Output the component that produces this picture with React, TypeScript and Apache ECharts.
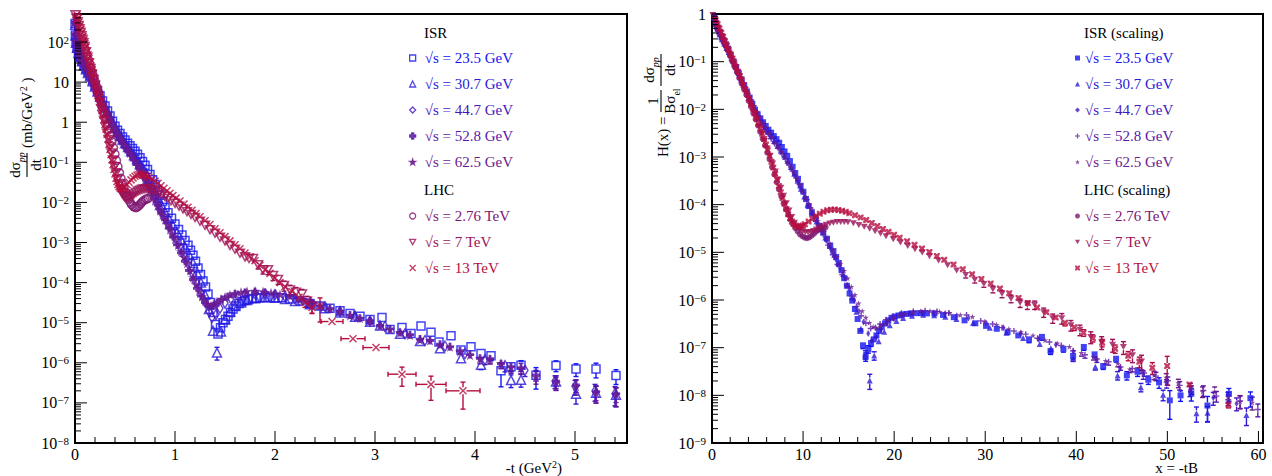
import React, { useEffect, useRef } from 'react';
import * as echarts from 'echarts';

const FONT = 'Liberation Serif, DejaVu Serif, serif';

// ---- series meta ----
const LABELS = ['√s = 23.5 GeV', '√s = 30.7 GeV', '√s = 44.7 GeV', '√s = 52.8 GeV', '√s = 62.5 GeV', '√s = 2.76 TeV', '√s = 7 TeV', '√s = 13 TeV'];
const COLORS = ['#1414f0', '#2c1ad8', '#4418c0', '#5818a8', '#6a1a8e', '#7e1672', '#9a1258', '#b60e3e'];
// slope B (GeV^-2) and elastic cross section (mb) used for the scaling x = -tB, H = (dσ/dt)/(Bσel)
const SLOPE_B = [11.8, 12.2, 12.8, 13.0, 13.3, 17.1, 19.9, 20.4];
const SIGMA_EL = [6.8, 7.2, 7.5, 7.6, 7.9, 21.8, 25.4, 31.0];

// ---- data: [-t (GeV^2), dσ/dt (mb/GeV^2), relative y error, x half-error] ----
const D_23_5 = [[0.001,290],[0.004,150],[0.01,98],[0.02,70],[0.035,52],[0.05,42],[0.07,33],[0.09,26],[0.11,21.5],[0.13,18],[0.15,14.8],[0.175,11],[0.2,8.2],[0.225,6.2],[0.25,4.6],[0.275,3.4],[0.3,2.55],[0.325,1.9],[0.35,1.42],[0.375,1.06],[0.4,0.79],[0.425,0.63],[0.45,0.52],[0.475,0.43],[0.5,0.36],[0.525,0.3],[0.55,0.26],[0.575,0.22],[0.6,0.19],[0.625,0.16],[0.65,0.13],[0.675,0.105],[0.7,0.085],[0.725,0.066],[0.75,0.05],[0.775,0.037],[0.8,0.028],[0.825,0.02],[0.85,0.015],[0.875,0.0105],[0.9,0.0075],[0.93,0.0055],[0.965,0.004],[1.0,0.0029],[1.035,0.0021],[1.07,0.00155],[1.1,0.00112],[1.13,0.00085],[1.155,0.00064],[1.18,0.00048],[1.205,0.00034],[1.23,0.00023],[1.255,0.00016],[1.28,0.00011,0.05],[1.305,7.8e-5,0.06],[1.33,5.2e-5,0.08],[1.355,3.2e-5,0.1],[1.38,1.8e-5,0.12],[1.405,9e-6,0.15],[1.43,5.2e-6,0.2],[1.455,7.5e-6,0.18],[1.48,1.0e-5,0.15],[1.505,1.2e-5,0.12],[1.53,1.45e-5,0.1],[1.555,1.8e-5,0.1],[1.58,2.2e-5,0.08],[1.61,2.6e-5,0.08],[1.64,3.0e-5,0.08],[1.67,3.4e-5,0.08],[1.7,3.6e-5,0.08],[1.735,3.8e-5,0.08],[1.77,4.0e-5,0.08],[1.81,4.1e-5,0.08],[1.85,4.2e-5,0.08],[1.9,4.25e-5,0.08],[1.95,4.25e-5,0.08],[2.0,4.2e-5,0.08],[2.07,4.2e-5,0.08],[2.15,3.9e-5,0.1],[2.25,3.5e-5,0.1],[2.35,3.0e-5,0.1],[2.45,2.6e-5,0.1],[2.55,2.3e-5,0.1],[2.65,2.0e-5,0.12],[2.75,1.7e-5,0.12],[2.85,1.45e-5,0.12],[2.95,1.2e-5,0.15],[3.07,1.35e-5,0.15],[3.15,6.8e-6,0.15],[3.27,7.6e-6,0.15],[3.36,5.4e-6,0.15],[3.46,8.3e-6,0.15],[3.56,5.8e-6,0.15],[3.64,3.3e-6,0.15],[3.76,4.7e-6,0.15],[3.86,2.1e-6,0.2],[3.96,2.5e-6,0.2],[4.06,1.7e-6,0.2],[4.16,1.5e-6,0.25],[4.26,6.3e-7,0.6],[4.36,8e-7,0.25],[4.46,8.7e-7,0.3],[4.61,4.9e-7,0.55],[4.81,8.6e-7,0.3],[5.01,7e-7,0.35],[5.21,7e-7,0.4],[5.41,4.8e-7,0.4]];

const D_30_7 = [[0.001,270],[0.004,145],[0.01,96],[0.02,72],[0.035,53],[0.05,43],[0.07,33],[0.09,26],[0.11,21],[0.13,17],[0.15,14],[0.175,10.5],[0.2,7.8],[0.225,5.8],[0.25,4.3],[0.275,3.15],[0.3,2.35],[0.325,1.75],[0.35,1.3],[0.375,0.97],[0.4,0.73],[0.425,0.57],[0.45,0.46],[0.475,0.37],[0.5,0.3],[0.53,0.24],[0.56,0.19],[0.59,0.15],[0.62,0.12],[0.65,0.094],[0.68,0.072],[0.71,0.054],[0.74,0.039],[0.77,0.028],[0.8,0.019],[0.83,0.013],[0.86,0.0088],[0.9,0.0058],[0.94,0.0039],[0.98,0.0027],[1.02,0.0018],[1.06,0.0012],[1.1,0.00078],[1.14,0.0005],[1.18,0.00031],[1.22,0.00018],[1.26,0.0001,0.05],[1.3,5e-5,0.08],[1.34,2.2e-5,0.1],[1.38,6.3e-6,0.2],[1.42,1.8e-6,0.35],[1.46,6e-6,0.2],[1.5,1.2e-5,0.12],[1.55,1.9e-5,0.1],[1.6,2.6e-5,0.08],[1.66,3.2e-5,0.08],[1.72,3.7e-5,0.08],[1.8,4.1e-5,0.08],[1.9,4.3e-5,0.08],[2.0,4.2e-5,0.08],[2.1,3.9e-5,0.1],[2.2,3.5e-5,0.1],[2.35,2.9e-5,0.1],[2.5,2.3e-5,0.1],[2.65,1.8e-5,0.12],[2.8,1.4e-5,0.12],[2.95,1.05e-5,0.12],[3.05,8.5e-6,0.15],[3.25,5.3e-6,0.15],[3.45,3.5e-6,0.15],[3.65,2.3e-6,0.2],[3.86,1.3e-6,0.2],[4.06,9e-7,0.25],[4.36,3.7e-7,0.35],[4.46,3.8e-7,0.35],[4.81,3.4e-7,0.4],[5.01,1.7e-7,0.45],[5.21,1.8e-7,0.45],[5.41,1.6e-7,0.5]];

const D_44_7 = [[0.001,300],[0.004,155],[0.01,100],[0.02,74],[0.035,54],[0.05,44],[0.07,34],[0.09,27],[0.11,21.5],[0.13,17.5],[0.15,14],[0.175,10.3],[0.2,7.6],[0.225,5.6],[0.25,4.1],[0.275,3.0],[0.3,2.2],[0.325,1.62],[0.35,1.2],[0.375,0.89],[0.4,0.66],[0.425,0.5],[0.45,0.4],[0.475,0.32],[0.5,0.26],[0.53,0.2],[0.56,0.16],[0.59,0.125],[0.62,0.097],[0.65,0.074],[0.68,0.055],[0.71,0.04],[0.74,0.029],[0.77,0.02],[0.8,0.014],[0.83,0.0095],[0.86,0.0064],[0.9,0.0042],[0.94,0.0027],[0.98,0.0017],[1.02,0.0011],[1.06,0.0007],[1.1,0.00044],[1.14,0.00027],[1.18,0.00016],[1.22,9.5e-5,0.05],[1.26,5.6e-5,0.06],[1.3,3.3e-5,0.08],[1.34,1.9e-5,0.1],[1.37,1.35e-5,0.15],[1.41,1.6e-5,0.12],[1.45,2.3e-5,0.1],[1.5,3.1e-5,0.1],[1.56,3.9e-5,0.08],[1.63,4.6e-5,0.08],[1.7,5e-5,0.08],[1.8,5.3e-5,0.08],[1.9,5.2e-5,0.08],[2.0,5e-5,0.08],[2.1,4.5e-5,0.1],[2.2,4e-5,0.1],[2.35,3.2e-5,0.1],[2.5,2.5e-5,0.1],[2.65,1.9e-5,0.12],[2.8,1.45e-5,0.12],[2.95,1.1e-5,0.12],[3.1,8e-6,0.15],[3.3,5.3e-6,0.15],[3.5,3.6e-6,0.15],[3.7,2.6e-6,0.2],[3.9,1.7e-6,0.2],[4.1,1.2e-6,0.25],[4.3,8.5e-7,0.3],[4.5,6.5e-7,0.3],[4.8,3.5e-7,0.35],[5.0,2.6e-7,0.4],[5.2,2e-7,0.45],[5.4,1.7e-7,0.5]];

const D_52_8 = [[0.001,310],[0.004,158],[0.01,102],[0.02,75],[0.035,55],[0.05,44],[0.07,34],[0.09,27],[0.11,21.5],[0.13,17.3],[0.15,13.8],[0.175,10.1],[0.2,7.4],[0.225,5.4],[0.25,3.95],[0.275,2.9],[0.3,2.1],[0.325,1.55],[0.35,1.14],[0.375,0.84],[0.4,0.62],[0.425,0.47],[0.45,0.37],[0.475,0.3],[0.5,0.24],[0.53,0.19],[0.56,0.15],[0.59,0.115],[0.62,0.088],[0.65,0.067],[0.68,0.05],[0.71,0.036],[0.74,0.026],[0.77,0.018],[0.8,0.0125],[0.83,0.0085],[0.86,0.0057],[0.9,0.0037],[0.94,0.0023],[0.98,0.0014],[1.02,0.00088],[1.06,0.00055],[1.1,0.00034],[1.14,0.0002],[1.18,0.00012],[1.22,7.2e-5,0.05],[1.26,4.6e-5,0.06],[1.3,3.2e-5,0.08],[1.34,2.5e-5,0.1],[1.38,2.6e-5,0.1],[1.42,3.1e-5,0.1],[1.47,3.8e-5,0.1],[1.53,4.5e-5,0.08],[1.6,5.2e-5,0.08],[1.7,5.7e-5,0.08],[1.8,5.9e-5,0.08],[1.9,5.7e-5,0.08],[2.0,5.3e-5,0.08],[2.15,4.8e-5,0.1],[2.27,3.6e-5,0.1],[2.37,3.1e-5,0.1],[2.45,2.6e-5,0.1],[2.55,2.2e-5,0.1],[2.65,1.9e-5,0.1],[2.75,1.55e-5,0.12],[2.85,1.3e-5,0.12],[2.95,1.1e-5,0.12],[3.05,8.5e-6,0.12],[3.15,7e-6,0.15],[3.25,5.7e-6,0.15],[3.35,5e-6,0.15],[3.45,3.9e-6,0.15],[3.55,3.6e-6,0.15],[3.65,2.9e-6,0.15],[3.75,2.5e-6,0.2],[3.85,2e-6,0.2],[3.95,1.6e-6,0.2],[4.05,1.3e-6,0.2],[4.15,1.25e-6,0.25],[4.26,9.5e-7,0.25],[4.36,8e-7,0.25],[4.46,7.5e-7,0.3],[4.61,5e-7,0.3],[4.81,3.5e-7,0.35],[5.01,2.8e-7,0.35],[5.21,1.9e-7,0.4],[5.41,1.7e-7,0.4]];

const D_62_5 = [[0.001,320],[0.004,160],[0.01,104],[0.02,76],[0.035,56],[0.05,45],[0.07,35],[0.09,27.5],[0.11,22],[0.13,17.5],[0.15,13.5],[0.175,9.9],[0.2,7.3],[0.225,5.35],[0.25,4.0],[0.275,2.95],[0.3,2.2],[0.325,1.65],[0.35,1.25],[0.375,0.95],[0.4,0.72],[0.425,0.55],[0.45,0.43],[0.475,0.34],[0.5,0.27],[0.525,0.21],[0.55,0.17],[0.575,0.135],[0.6,0.105],[0.625,0.083],[0.65,0.064],[0.675,0.05],[0.7,0.037],[0.725,0.028],[0.75,0.02],[0.775,0.015],[0.8,0.011],[0.825,0.0083],[0.85,0.0062],[0.875,0.0048],[0.9,0.0037],[0.925,0.0028],[0.95,0.0021],[0.975,0.0016],[1.0,0.0012],[1.03,0.00085],[1.06,0.0006],[1.09,0.00043],[1.12,0.0003],[1.15,0.0002],[1.18,0.000135],[1.21,9e-5,0.05],[1.24,6.2e-5,0.06],[1.27,4.5e-5,0.08],[1.3,3.5e-5,0.1],[1.33,2.9e-5,0.1],[1.36,2.7e-5,0.12],[1.39,2.9e-5,0.12],[1.42,3.3e-5,0.1],[1.46,3.9e-5,0.1],[1.5,4.4e-5,0.1],[1.55,5e-5,0.08],[1.6,5.4e-5,0.08],[1.66,5.8e-5,0.08],[1.72,6.1e-5,0.08],[1.8,6.2e-5,0.08],[1.88,6e-5,0.08],[1.96,5.6e-5,0.08],[2.05,5.1e-5,0.1],[2.15,4.7e-5,0.1],[2.25,3.7e-5,0.1],[2.35,3.2e-5,0.1],[2.45,2.6e-5,0.1],[2.55,2.25e-5,0.1],[2.65,1.9e-5,0.12],[2.75,1.5e-5,0.12],[2.85,1.3e-5,0.12],[2.95,1.1e-5,0.12],[3.05,8.2e-6,0.15],[3.15,6.8e-6,0.15],[3.25,5.6e-6,0.15],[3.35,4.9e-6,0.15],[3.45,3.7e-6,0.15],[3.55,3.6e-6,0.15],[3.65,2.8e-6,0.2],[3.75,2.5e-6,0.2],[3.85,1.9e-6,0.2],[3.95,1.55e-6,0.2],[4.05,1.26e-6,0.25],[4.15,1.26e-6,0.25],[4.26,9.7e-7,0.25],[4.36,7.8e-7,0.3],[4.46,7.4e-7,0.3],[4.61,4.5e-7,0.35],[4.81,3.2e-7,0.35],[5.01,2.6e-7,0.4],[5.21,1.8e-7,0.45],[5.41,1.6e-7,0.5]];

const D_2_76 = [[0.072,112],[0.085,88],[0.1,66],[0.115,50],[0.13,38],[0.145,29],[0.16,22.5],[0.175,17],[0.19,13],[0.205,9.9],[0.22,7.5],[0.235,5.6],[0.25,4.2],[0.265,3.1],[0.28,2.3],[0.295,1.7],[0.31,1.25],[0.325,0.9],[0.34,0.65],[0.355,0.46],[0.37,0.33],[0.385,0.23],[0.4,0.16],[0.415,0.11],[0.43,0.078],[0.445,0.055],[0.46,0.04],[0.475,0.03,0.08],[0.49,0.023,0.08],[0.505,0.018,0.1],[0.52,0.0145,0.1],[0.535,0.012,0.1],[0.55,0.0102,0.12],[0.565,0.0089,0.12],[0.58,0.0081,0.12],[0.595,0.0076,0.12],[0.61,0.0074,0.12],[0.625,0.0077,0.12],[0.64,0.0083,0.12],[0.655,0.0092,0.12],[0.67,0.0102,0.12],[0.685,0.011,0.12],[0.7,0.0117,0.12],[0.715,0.0122,0.12],[0.73,0.0125,0.12]];

const D_7 = [[0.005,480],[0.015,390],[0.025,320],[0.035,260],[0.045,215],[0.055,175],[0.065,143],[0.075,117],[0.085,96],[0.095,78],[0.11,57],[0.125,42],[0.14,30],[0.155,22],[0.17,16],[0.185,11.6],[0.2,8.4],[0.215,6.0],[0.23,4.3],[0.245,3.1],[0.26,2.2],[0.275,1.55],[0.29,1.1],[0.305,0.76],[0.32,0.53],[0.335,0.37],[0.35,0.25],[0.365,0.17],[0.38,0.115],[0.395,0.078],[0.41,0.054],[0.425,0.038],[0.44,0.028],[0.455,0.021],[0.47,0.017],[0.485,0.0148],[0.5,0.0138],[0.515,0.0133],[0.53,0.0132,0.05],[0.545,0.0135,0.05],[0.56,0.0142,0.05],[0.575,0.0152,0.05],[0.59,0.0163,0.05],[0.61,0.0178,0.05],[0.63,0.0192,0.05],[0.65,0.0203,0.05],[0.67,0.0212,0.05],[0.69,0.0218,0.05],[0.71,0.022,0.05],[0.73,0.0219,0.06],[0.75,0.0215,0.06],[0.78,0.0205,0.06],[0.81,0.019,0.06],[0.84,0.0173,0.07],[0.87,0.0157,0.07],[0.9,0.014,0.07],[0.93,0.0125,0.08],[0.96,0.011,0.08],[1.0,0.0095,0.08],[1.04,0.0081,0.09],[1.08,0.0069,0.09],[1.12,0.0059,0.1],[1.16,0.005,0.1],[1.2,0.0042,0.1],[1.25,0.0034,0.12],[1.3,0.0027,0.12],[1.35,0.0021,0.13],[1.4,0.0017,0.14],[1.45,0.00135,0.15],[1.5,0.0011,0.15],[1.55,0.00085,0.16],[1.6,0.00068,0.17],[1.65,0.00054,0.18],[1.7,0.00044,0.2],[1.74,0.0004,0.2],[1.78,0.0004,0.2],[1.83,0.00028,0.22],[1.88,0.00021,0.22],[1.93,0.00021,0.25],[1.98,0.00015,0.25],[2.03,0.00012,0.25],[2.09,8.5e-5,0.28],[2.15,6.6e-5,0.3],[2.21,5.8e-5,0.3],[2.27,5.2e-5,0.3],[2.32,3.5e-5,0.3],[2.37,2.6e-5,0.35]];

const D_13 = [[0.02,470],[0.03,385],[0.04,315],[0.05,255],[0.06,208],[0.07,170],[0.08,138],[0.09,112],[0.1,91],[0.11,74],[0.12,60],[0.13,48],[0.14,39],[0.15,31.5],[0.16,25.5],[0.17,20.5],[0.18,16.5],[0.19,13.2],[0.2,10.5],[0.21,8.4],[0.22,6.6],[0.23,5.2],[0.24,4.1],[0.25,3.2],[0.26,2.5],[0.27,1.95],[0.28,1.5],[0.29,1.15],[0.3,0.88],[0.31,0.67],[0.32,0.5],[0.33,0.38],[0.34,0.28],[0.35,0.21],[0.36,0.155],[0.37,0.115],[0.38,0.087],[0.39,0.066],[0.4,0.051],[0.41,0.04],[0.42,0.033],[0.43,0.028],[0.44,0.025],[0.45,0.023],[0.46,0.022],[0.47,0.0218],[0.48,0.0222],[0.49,0.0232],[0.5,0.0245],[0.52,0.028],[0.54,0.032],[0.56,0.0365],[0.58,0.041],[0.6,0.045],[0.62,0.048],[0.64,0.0497],[0.66,0.05],[0.68,0.049],[0.7,0.047],[0.72,0.045],[0.74,0.042],[0.77,0.038],[0.8,0.034],[0.83,0.03],[0.86,0.026],[0.89,0.0225],[0.92,0.0195],[0.95,0.017],[0.98,0.0148],[1.01,0.0128],[1.05,0.0108],[1.09,0.0091],[1.13,0.0076],[1.17,0.0064],[1.21,0.0053],[1.25,0.0044,0.05],[1.3,0.0035,0.05],[1.35,0.0028,0.06],[1.4,0.0022,0.06],[1.45,0.00175,0.07],[1.5,0.0014,0.08],[1.55,0.0011,0.08],[1.6,0.00088,0.09],[1.65,0.0007,0.1],[1.7,0.00055,0.1],[1.75,0.00044,0.11],[1.8,0.00035,0.12],[1.85,0.00027,0.13],[1.9,0.00021,0.14],[1.95,0.00017,0.15],[2.0,0.00013,0.16],[2.05,0.0001,0.17],[2.1,8e-5,0.18],[2.17,6e-5,0.2],[2.24,4.3e-5,0.22],[2.3,3.2e-5,0.25],[2.37,2.4e-5,0.28],[2.45,2.6e-5,0.6],[2.57,1.07e-5,0.12,0.11],[2.78,4e-6,0.14,0.12],[3.01,2.4e-6,0.16,0.13],[3.27,5.2e-7,0.5,0.14],[3.56,2.9e-7,0.6,0.15],[3.88,2e-7,0.65,0.17]];

const SERIES_DATA = [D_23_5, D_30_7, D_44_7, D_52_8, D_62_5, D_2_76, D_7, D_13];

// ---- axis tick label values ----
const LEFT_X_LABELS = [0, 1, 2, 3, 4, 5];
const RIGHT_X_LABELS = [0, 10, 20, 30, 40, 50, 60];

// ---- marker shapes ----
const P_STAR = 'path://M50,0L61.8,36.2L100,36.2L69.1,58.8L80.9,95.1L50,72.7L19.1,95.1L30.9,58.8L0,36.2L38.2,36.2Z';
const P_FULLCROSS = 'path://M32,0H68V32H100V68H68V100H32V68H0V32H32Z';
const P_PLUS = 'path://M38,0H62V38H100V62H62V100H38V62H0V38H38Z';
const P_X = 'path://M0,0L100,100M100,0L0,100';
const P_TRIDOWN = 'path://M0,0L100,0L50,87Z';
const P_XSQ = 'path://M0,0H30L50,20L70,0H100V30L80,50L100,70V100H70L50,80L30,100H0V70L20,50L0,30Z';

const LEFT_SYM = [
  { symbol: 'rect', size: 8, open: true },
  { symbol: 'triangle', size: 9, open: true },
  { symbol: 'diamond', size: [6, 10], open: true },
  { symbol: P_FULLCROSS, size: 8, open: false },
  { symbol: P_STAR, size: 10, open: false },
  { symbol: 'circle', size: 8, open: true },
  { symbol: P_TRIDOWN, size: [9, 8], open: true },
  { symbol: P_X, size: 7, open: true },
];
const RIGHT_SYM = [
  { symbol: 'rect', size: 6 },
  { symbol: 'triangle', size: 6 },
  { symbol: 'diamond', size: [4, 7] },
  { symbol: P_PLUS, size: 6 },
  { symbol: P_STAR, size: 6 },
  { symbol: 'circle', size: 6 },
  { symbol: P_TRIDOWN, size: [7, 6] },
  { symbol: P_XSQ, size: 6 },
];

const GRIDS = [
  { left: 75, top: 14, width: 552, height: 429 },
  { left: 712, top: 14, width: 551, height: 429 },
];
const XR = [[0, 5.52], [0, 60.5]];
const YR = [[-8, Math.log10(500)], [-9, 0]];

function yLabel(v: number) {
  const r = Math.round(v);
  if (Math.abs(v - r) > 1e-6) return '';
  if (r === 0) return '1';
  if (r === 1) return '10';
  return '{b|10}{e|' + (r < 0 ? '−' : '') + Math.abs(r) + '}';
}

function makeErr(color: string, half: number) {
  return (params: any, api: any) => {
    const x = api.value(0), y = api.value(1), ylo = api.value(2), yhi = api.value(3), xlo = api.value(4), xhi = api.value(5);
    const pc = api.coord([x, y]);
    const pl = api.coord([x, ylo]);
    const ph = api.coord([x, yhi]);
    const st = { stroke: color, lineWidth: 1.4 };
    const cap = 2.5;
    const ch: any[] = [];
    const ln = (x1: number, y1: number, x2: number, y2: number) => ch.push({ type: 'line', shape: { x1, y1, x2, y2 }, style: st });
    if (pl[1] - pc[1] > half) { ln(pc[0], pc[1] + half, pc[0], pl[1]); ln(pc[0] - cap, pl[1], pc[0] + cap, pl[1]); }
    if (pc[1] - ph[1] > half) { ln(pc[0], pc[1] - half, pc[0], ph[1]); ln(pc[0] - cap, ph[1], pc[0] + cap, ph[1]); }
    if (xhi > xlo) {
      const a = api.coord([xlo, y]);
      const b = api.coord([xhi, y]);
      if (pc[0] - a[0] > half) { ln(a[0], pc[1], pc[0] - half, pc[1]); ln(a[0], pc[1] - cap, a[0], pc[1] + cap); }
      if (b[0] - pc[0] > half) { ln(pc[0] + half, pc[1], b[0], pc[1]); ln(b[0], pc[1] - cap, b[0], pc[1] + cap); }
    }
    return { type: 'group', children: ch };
  };
}

function tickSeries(p: number) {
  const items: number[][] = [];
  const [y0, y1] = YR[p];
  for (let n = Math.ceil(y0); n <= Math.floor(y1); n++) {
    items.push([1, n, 12]);
    for (let k = 2; k <= 9; k++) {
      const v = n + Math.log10(k);
      if (v < y1) items.push([1, v, 6]);
    }
  }
  const step = p === 0 ? 0.2 : 2;
  for (let i = 0; i * step <= XR[p][1] + 1e-9; i++) items.push([0, i * step, i % 5 === 0 ? 12 : 6]);
  return {
    type: 'custom', xAxisIndex: p, yAxisIndex: p, silent: true, z: 10, clip: false,
    data: items,
    renderItem: (params: any, api: any) => {
      const kind = api.value(0), v = api.value(1), len = api.value(2);
      if (kind === 0) {
        const q = api.coord([v, YR[p][0]]);
        return { type: 'line', shape: { x1: q[0], y1: q[1], x2: q[0], y2: q[1] - len }, style: { stroke: '#000', lineWidth: 1 } };
      }
      const q = api.coord([XR[p][0], v]);
      return { type: 'line', shape: { x1: q[0], y1: q[1], x2: q[0] + len, y2: q[1] }, style: { stroke: '#000', lineWidth: 1 } };
    },
  };
}

function buildOption() {
  const series: any[] = [];
  for (let p = 0; p < 2; p++) {
    for (let i = 0; i < 8; i++) {
      const B = SLOPE_B[i];
      const pts = SERIES_DATA[i].map((r: number[]) => (p === 0 ? [r[0], r[1], r[2] || 0, r[3] || 0] : [r[0] * B, r[1] / (B * SIGMA_EL[i]), r[2] || 0, 0]));
      const sym: any = p === 0 ? LEFT_SYM[i] : RIGHT_SYM[i];
      const c = COLORS[i];
      const sz = Array.isArray(sym.size) ? sym.size[1] : sym.size;
      const errData = pts
        .filter((r) => r[2] > 0 || r[3] > 0)
        .map((r) => [r[0], Math.log10(r[1]), Math.log10(r[1] * (1 - r[2])), Math.log10(r[1] * (1 + r[2])), r[0] - r[3], r[0] + r[3]]);
      series.push({ type: 'custom', xAxisIndex: p, yAxisIndex: p, data: errData, clip: true, silent: true, z: 2, renderItem: makeErr(c, sz / 2) });
      series.push({
        type: 'scatter', name: (p === 0 ? 'L' : 'R') + i, xAxisIndex: p, yAxisIndex: p,
        data: pts.map((r) => [r[0], Math.log10(r[1])]),
        symbol: sym.symbol, symbolSize: sym.size, clip: true, silent: true, z: 2,
        itemStyle: p === 0 && sym.open
          ? { color: 'rgba(255,255,255,0)', borderColor: c, borderWidth: 1.5 }
          : { color: c, borderColor: c, borderWidth: 0 },
        emphasis: { disabled: true },
      });
    }
    series.push(tickSeries(p));
  }

  const legendBase = {
    orient: 'vertical', padding: 0, itemGap: 10, selectedMode: false,
    textStyle: { fontFamily: FONT, fontSize: 15, lineHeight: 16 },
    formatter: (name: string) => LABELS[Number(name.slice(1))],
  };
  const legendData = (prefix: string, idx: number[]) => idx.map((i) => ({ name: prefix + i, textStyle: { color: COLORS[i] } }));
  const isr = [0, 1, 2, 3, 4];
  const lhc = [5, 6, 7];
  const leftLegend = { itemWidth: 6, itemHeight: 6, itemStyle: { borderWidth: 1.3 }, textStyle: { ...legendBase.textStyle, padding: [0, 0, 0, 4] } };
  const rightLegend = { itemWidth: 5, itemHeight: 5, itemStyle: { borderWidth: 0 }, textStyle: { ...legendBase.textStyle, padding: [0, 0, 0, 0] } };

  const txt = (x: number, y: number, text: string, extra: any = {}) => ({
    type: 'text', x, y, silent: true,
    style: { text, fontFamily: FONT, fontSize: 15, fill: '#000', align: 'left', verticalAlign: 'middle', ...extra },
  });
  const supRich = { s: { fontSize: 10, fontFamily: FONT, verticalAlign: 'top', padding: [0, 0, 7, 0] } };
  const subRich = { a: { fontSize: 15, fontFamily: FONT, verticalAlign: 'top' }, s: { fontSize: 10, fontFamily: FONT, fontStyle: 'italic', verticalAlign: 'bottom', padding: [9, 0, 0, 0] } };

  const fraction = (cx: number, num: string, numRich: any, den: string, denRich: any, half: number) => [
    { type: 'text', x: cx, y: -1, silent: true, style: { text: num, rich: numRich, fontFamily: FONT, fontSize: 15, fill: '#000', align: 'center', verticalAlign: 'bottom' } },
    { type: 'line', silent: true, shape: { x1: cx - half, y1: 0, x2: cx + half, y2: 0 }, style: { stroke: '#000', lineWidth: 1.1 } },
    { type: 'text', x: cx, y: 1, silent: true, style: { text: den, rich: denRich, fontFamily: FONT, fontSize: 15, fill: '#000', align: 'center', verticalAlign: 'top' } },
  ];

  const graphic = [
    txt(424, 33, 'ISR'),
    txt(424, 190, 'LHC'),
    txt(1084, 33, 'ISR (scaling)'),
    txt(1084, 190, 'LHC (scaling)'),
    txt(562, 468, '-t (GeV{s|2})', { align: 'right', rich: supRich }),
    txt(1198, 468, 'x = -tB', { align: 'right' }),
    {
      type: 'group', x: 27, y: 165, rotation: Math.PI / 2, silent: true,
      children: [
        ...fraction(0, '{a|dσ}{s|pp}', subRich, 'dt', undefined, 12),
        { type: 'text', x: 17, y: 0, silent: true, style: { text: '(mb/GeV{s|2} )', rich: supRich, fontFamily: FONT, fontSize: 15, fill: '#000', align: 'left', verticalAlign: 'middle' } },
      ],
    },
    {
      type: 'group', x: 661, y: 101, rotation: Math.PI / 2, silent: true,
      children: [
        { type: 'text', x: -56, y: 2, silent: true, style: { text: 'H(x) =', fontFamily: FONT, fontSize: 15, fill: '#000', align: 'left', verticalAlign: 'middle' } },
        ...fraction(0, '1', undefined, '{a|Bσ}{s|el}', { a: { fontSize: 15, fontFamily: FONT, verticalAlign: 'top' }, s: { fontSize: 10, fontFamily: FONT, verticalAlign: 'bottom', padding: [9, 0, 0, 0] } }, 11),
        ...fraction(31, '{a|dσ}{s|pp}', subRich, 'dt', undefined, 16),
      ],
    },
  ];

  const xAxis = [0, 1].map((p) => ({
    type: 'value', gridIndex: p, min: XR[p][0], max: XR[p][1], interval: p === 0 ? 1 : 10,
    axisLine: { show: false }, axisTick: { show: false }, splitLine: { show: false },
    axisLabel: {
      margin: 3, fontFamily: FONT, fontSize: 16, color: '#000', hideOverlap: false,
      formatter: (v: number) => {
        const list = p === 0 ? LEFT_X_LABELS : RIGHT_X_LABELS;
        const hit = list.find((l) => Math.abs(l - v) < 1e-6);
        return hit === undefined ? '' : String(hit);
      },
    },
  }));
  const yAxis = [0, 1].map((p) => ({
    type: 'value', gridIndex: p, min: YR[p][0], max: YR[p][1], interval: 1,
    axisLine: { show: false }, axisTick: { show: false }, splitLine: { show: false },
    axisLabel: {
      margin: 6, fontFamily: FONT, fontSize: 16, color: '#000', hideOverlap: false,
      formatter: yLabel,
      rich: {
        b: { fontFamily: FONT, fontSize: 16, color: '#000', verticalAlign: 'bottom', lineHeight: 16 },
        e: { fontFamily: FONT, fontSize: 11, color: '#000', verticalAlign: 'top', lineHeight: 11, padding: [0, 0, 8, 0] },
      },
    },
  }));

  return {
    animation: false,
    backgroundColor: '#fff',
    grid: GRIDS.map((g) => ({ ...g, show: true, borderColor: '#000', borderWidth: 2, backgroundColor: 'rgba(0,0,0,0)' })),
    xAxis,
    yAxis,
    legend: [
      { ...legendBase, ...leftLegend, left: 409, top: 50, data: legendData('L', isr) },
      { ...legendBase, ...leftLegend, left: 409, top: 208, data: legendData('L', lhc) },
      { ...legendBase, ...rightLegend, left: 1075, top: 50, data: legendData('R', isr) },
      { ...legendBase, ...rightLegend, left: 1075, top: 208, data: legendData('R', lhc) },
    ],
    graphic,
    series,
  };
}

export default function App() {
  const ref = useRef<HTMLDivElement>(null);
  useEffect(() => {
    if (!ref.current) return;
    const chart = echarts.init(ref.current, null, { renderer: 'svg' });
    chart.setOption(buildOption() as any);
    return () => chart.dispose();
  }, []);
  return <div ref={ref} style={{ position: 'fixed', left: 0, top: 0, width: 1272, height: 476, background: '#fff' }} />;
}
